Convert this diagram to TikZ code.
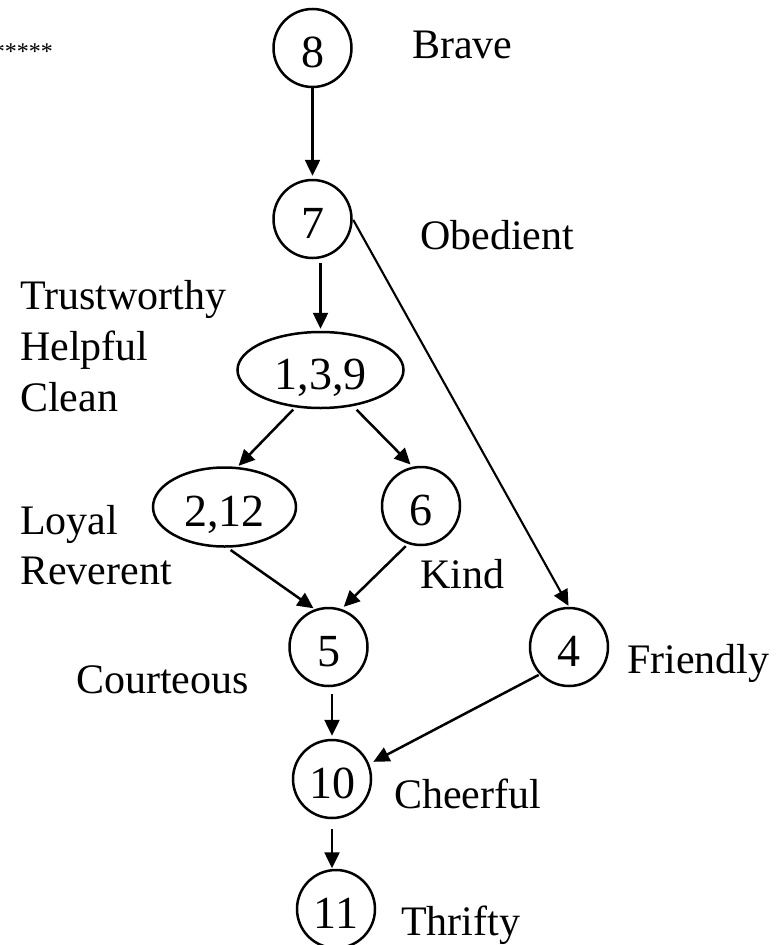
\documentclass[tikz,border=0pt]{standalone}
\usepackage{fontspec}
\setmainfont{Liberation Serif}
\usetikzlibrary{arrows.meta,shapes.geometric}
\begin{document}
\begin{tikzpicture}[x=1pt,y=-1pt,
  font=\fontsize{42}{50}\selectfont,
  num/.style={font=\fontsize{46}{52}\selectfont,text height=39pt,text depth=0pt},
  cnode/.style={draw,circle,line width=2.5pt,minimum size=78pt,inner sep=0pt,num},
  enode/.style={draw,ellipse,line width=2.5pt,inner sep=0pt,num},
  lbl/.style={anchor=base west,inner sep=0pt},
  edge/.style={line width=2.5pt,-{Triangle[length=16pt,width=15pt]}}
]
\useasboundingbox (0,0) rectangle (784,945);
% nodes
\node[cnode] (n8) at (312.5,48) {8};
\node[cnode] (n7) at (312.5,219) {7};
\node[enode,minimum width=166pt,minimum height=76pt] (n139) at (320.5,370) {1,3,9};
\node[enode,minimum width=143pt,minimum height=79pt] (n212) at (224.5,507) {2,12};
\node[cnode] (n6) at (421,506) {6};
\node[cnode] (n5) at (328.5,647) {5};
\node[cnode] (n4) at (569,647) {4};
\node[cnode] (n10) at (332,779) {10};
\node[cnode] (n11) at (336,909) {11};
% labels
\node[anchor=base east,inner sep=0pt,font=\fontsize{24}{28}\selectfont] (stars) at (53,59) {*****};
\node[lbl] (lBrave) at (412,58) {Brave};
\node[lbl] (lObed) at (420,249) {Obedient};
\node[lbl] (lTrust) at (20,309) {Trustworthy};
\node[lbl] (lHelp) at (20,360) {Helpful};
\node[lbl] (lClean) at (20,411) {Clean};
\node[lbl] (lLoyal) at (20,534) {Loyal};
\node[lbl] (lRev) at (20,584) {Reverent};
\node[lbl] (lKind) at (420,588) {Kind};
\node[lbl] (lCourt) at (76,693) {Courteous};
\node[lbl] (lFriend) at (627,673) {Friendly};
\node[lbl] (lCheer) at (394,808) {Cheerful};
\node[lbl] (lThrift) at (401,935) {Thrifty};
% edges
\draw[edge,shorten >=3pt] (n8.south) -- (n7.north);
\draw[edge,shorten <=4pt,shorten >=2pt] (n7.south -| n139) -- (n139.north);
\draw[edge,line width=2.1pt,shorten <=1pt,shorten >=1pt] (n7.east) -- (n4.north);
\draw[edge,shorten <=3pt,shorten >=1.5pt] (n139.236) -- (n212.72);
\draw[edge,shorten <=5pt,shorten >=3pt] (n139.312) -- (n6.102);
\draw[edge,shorten <=4pt,shorten >=1.5pt] (n212.274) -- (n5.110);
\draw[edge,shorten <=3pt,shorten >=3pt] (n6.251) -- (n5.71);
\draw[edge,shorten <=1pt,shorten >=4.5pt] (n4.223) -- (n10.22);
\draw[edge,shorten <=7pt,shorten >=3pt] (n5.south -| n10) -- (n10.north);
\draw[edge,shorten <=10pt,shorten >=0.5pt] (n10.south) -- (n10.south |- n11.north);
\end{tikzpicture}
\end{document}
